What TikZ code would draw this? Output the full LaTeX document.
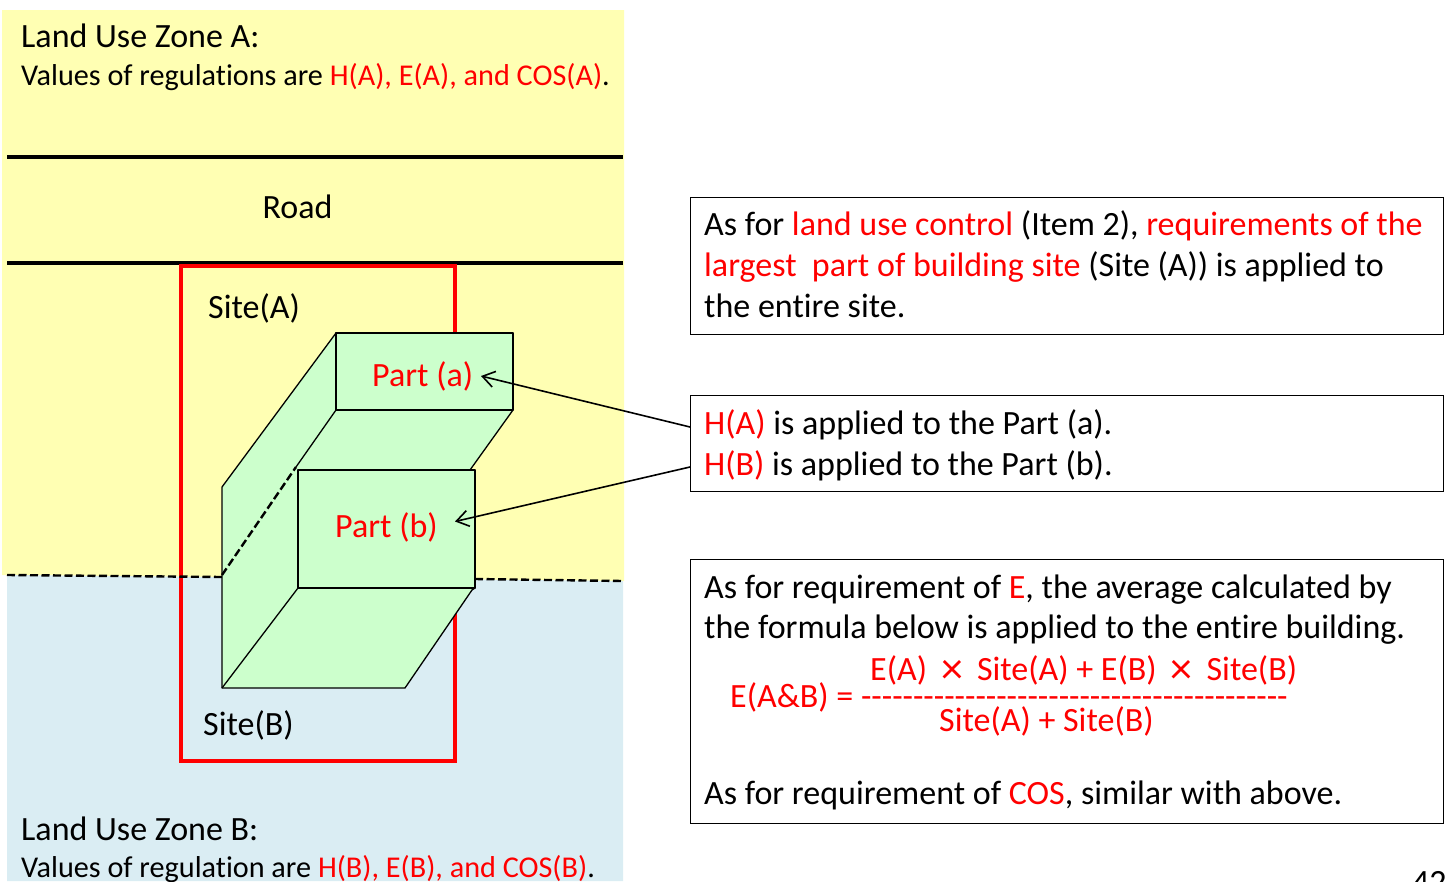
\documentclass[tikz,border=0pt]{standalone}
\usepackage{fontspec}
\setmainfont[Ligatures={TeXOff,NoCommon}]{Carlito}
\usetikzlibrary{arrows.meta}
\definecolor{zoneyellow}{HTML}{FFFFB3}
\definecolor{zoneblue}{HTML}{DAEDF3}
\definecolor{partgreen}{HTML}{CCFFCC}
\newcommand{\rd}[1]{\textcolor{red}{#1}}
\newcommand{\bigx}{\hspace{14pt}\raisebox{-2.5pt}{\fontsize{44}{44}\selectfont ×}\hspace{14pt}}
\tikzset{
  bigtext/.style={anchor=base west,inner sep=0pt,font=\fontsize{34}{41}\selectfont},
  smalltext/.style={anchor=base west,inner sep=0pt,font=\fontsize{30.2}{38}\selectfont},
  infobox/.style={draw,line width=1.2pt,anchor=north west,minimum width=752.5pt,inner sep=0pt},
  solid part/.style={draw,fill=partgreen,line width=1.3pt,line join=round},
  boundary/.style={line width=2.4pt,dash pattern=on 8pt off 3.5pt},
  pointer/.style={line width=1.6pt,-{Straight Barb[length=12pt,width=16pt]}}
}
\begin{document}
\begin{tikzpicture}[x=1pt,y=-1pt]
  \useasboundingbox (0,0) rectangle (1451,881);
  \clip (0,0) rectangle (1451,881);
  % zones
  \fill[zoneyellow] (2,10) -- (624,10) -- (624,581) -- (2,575) -- cycle;
  \fill[zoneblue] (7,575) -- (623,581) -- (623,881) -- (7,881) -- cycle;
  \draw[line width=4pt] (7,157) -- (623,157);
  \draw[line width=4pt] (7,263) -- (623,263);
  \draw[red,line width=4pt] (181,266) rectangle (454.5,761);
  \draw[boundary] (7,575) -- (222,577);
  \draw[boundary] (475,579) -- (623,581);
  % building
  \draw[solid part] (336,333) -- (513,333) -- (513,410) -- (470,470) -- (475,470) -- (475,588)
    -- (472,590) -- (405,688) -- (222,688) -- (222,487) -- cycle;
  \draw[solid part] (336,333) rectangle (513,410);
  \draw[line width=1.3pt] (336,410) -- (296,467);
  \draw[line width=1.3pt] (298,588) -- (222,688);
  \draw[solid part] (298,470) rectangle (475,588);
  \draw[boundary] (222,575) -- (296,467);
  % labels on the left
  \node[bigtext] (zonea) at (21,47) {Land Use Zone A:};
  \node[smalltext] (valuesa) at (21,85.5) {Values of regulations are \rd{H(A), E(A), and COS(A)}.};
  \node[bigtext] (road) at (262.5,218.5) {Road};
  \node[bigtext] (sitea) at (208,318.5) {Site(A)};
  \node[bigtext] (parta) at (372,386) {\rd{Part (a)}};
  \node[bigtext] (partb) at (335,537) {\rd{Part (b)}};
  \node[bigtext] (siteb) at (203,735.5) {Site(B)};
  \node[bigtext] (zoneb) at (21,840) {Land Use Zone B:};
  \node[smalltext] (valuesb) at (21,877) {Values of regulation are \rd{H(B), E(B), and COS(B)}.};
  % boxes on the right
  \node[infobox,minimum height=137pt] (box1) at (690,197) {};
  \node[infobox,minimum height=96pt] (box2) at (690,395) {};
  \node[infobox,minimum height=263.5pt] (box3) at (690,559) {};
  \node[bigtext] (line1) at (704,235.5) {As for \rd{land use control} (Item 2), \rd{requirements of the}};
  \node[bigtext] (line2) at (704,276.5) {\rd{largest\ \ part of building site} (Site (A)) is applied to};
  \node[bigtext] (line3) at (704,317.5) {the entire site.};
  \node[bigtext] (lineha) at (704,434.5) {\rd{H(A)} is applied to the Part (a).};
  \node[bigtext] (linehb) at (704,475.5) {\rd{H(B)} is applied to the Part (b).};
  \node[bigtext] (line4) at (704,598.5) {As for requirement of \rd{E}, the average calculated by};
  \node[bigtext] (line5) at (704,638.5) {the formula below is applied to the entire building.};
  \node[bigtext,red] (numer) at (870,680.5) {E(A)\bigx Site(A) + E(B)\bigx Site(B)};
  \node[bigtext,red] (lhs) at (730,707.5) {E(A\&B) = -----------------------------------------};
  \node[bigtext,red] (denom) at (939,731.5) {Site(A) + Site(B)};
  \node[bigtext] (line6) at (704,804.5) {As for requirement of \rd{COS}, similar with above.};
  \node[bigtext] (pagenum) at (1412,893) {42};
  % pointers
  \coordinate (froma) at (690,427);
  \coordinate (fromb) at (690,467);
  \coordinate (toa) at (481,376);
  \coordinate (tob) at (455,521.5);
  \draw[pointer] (froma) -- (toa);
  \draw[pointer] (fromb) -- (tob);
\end{tikzpicture}
\end{document}
